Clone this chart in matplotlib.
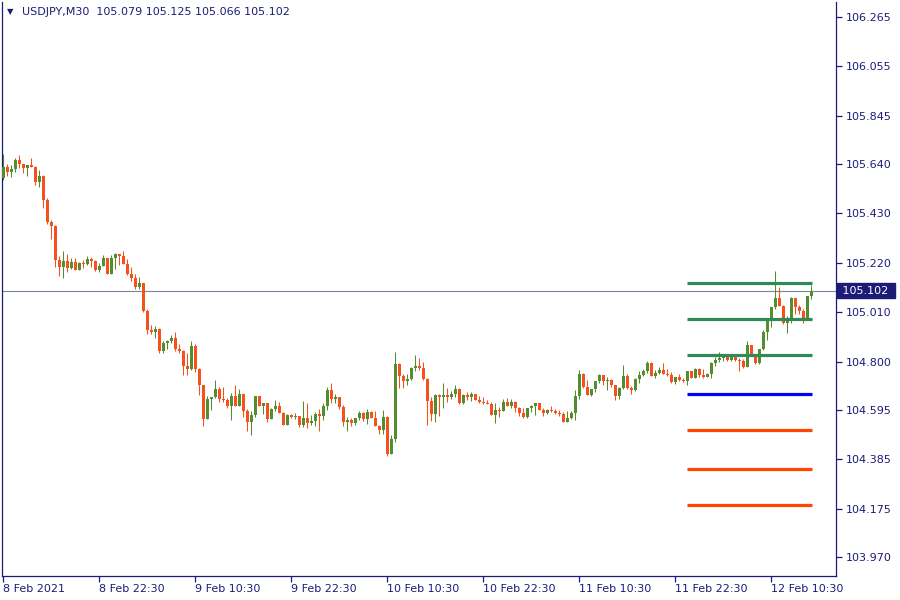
"""
USDJPY M30 candles with the hand-drawn levels (MT4-style screen).
Values read off the chart by eye; open of each bar = previous close.
"""
import numpy as np
import matplotlib
matplotlib.use("Agg")
import matplotlib.pyplot as plt
from matplotlib.transforms import blended_transform_factory

SYMBOL = "USDJPY"
TIMEFRAME = "M30"

FIRST_OPEN = 105.581
closes = [
    105.629, 105.608, 105.619, 105.657, 105.641, 105.623, 105.636, 105.628, 105.564, 105.590,
    105.487, 105.394, 105.377, 105.232, 105.203, 105.228, 105.198, 105.224, 105.190, 105.220,
    105.215, 105.237, 105.228, 105.190, 105.207, 105.241, 105.173, 105.241, 105.258, 105.249,
    105.215, 105.173, 105.156, 105.118, 105.135, 105.016, 104.935, 104.926, 104.939, 104.846,
    104.880, 104.888, 104.901, 104.854, 104.846, 104.782, 104.769, 104.867, 104.769, 104.701,
    104.557, 104.642, 104.650, 104.684, 104.642, 104.637, 104.612, 104.654, 104.612, 104.663,
    104.591, 104.544, 104.574, 104.654, 104.612, 104.625, 104.557, 104.599, 104.612, 104.582,
    104.531, 104.574, 104.565, 104.570, 104.531, 104.561, 104.540, 104.548, 104.578, 104.570,
    104.612, 104.680, 104.642, 104.650, 104.608, 104.544, 104.552, 104.540, 104.561, 104.582,
    104.557, 104.587, 104.561, 104.527, 104.510, 104.565, 104.408, 104.472, 104.790, 104.740,
    104.718, 104.727, 104.773, 104.782, 104.773, 104.727, 104.633, 104.578, 104.659, 104.650,
    104.659, 104.650, 104.663, 104.684, 104.625, 104.659, 104.650, 104.663, 104.637, 104.629,
    104.625, 104.620, 104.574, 104.595, 104.591, 104.629, 104.612, 104.629, 104.603, 104.582,
    104.565, 104.603, 104.612, 104.625, 104.595, 104.582, 104.595, 104.591, 104.582, 104.578,
    104.544, 104.561, 104.582, 104.654, 104.748, 104.693, 104.659, 104.684, 104.718, 104.744,
    104.718, 104.722, 104.701, 104.654, 104.688, 104.740, 104.688, 104.680, 104.727, 104.744,
    104.761, 104.795, 104.740, 104.752, 104.765, 104.748, 104.744, 104.714, 104.735, 104.722,
    104.718, 104.761, 104.731, 104.769, 104.744, 104.735, 104.748, 104.795, 104.807, 104.816,
    104.820, 104.807, 104.820, 104.807, 104.803, 104.778, 104.871, 104.829, 104.795, 104.854,
    104.926, 104.977, 105.032, 105.071, 105.037, 104.964, 104.981, 105.071, 105.032, 105.016,
    104.981, 105.079, 105.102,
]
highs = [
    105.683, 105.641, 105.636, 105.666, 105.679, 105.641, 105.636, 105.666, 105.632, 105.615,
    105.594, 105.496, 105.402, 105.381, 105.249, 105.271, 105.258, 105.241, 105.241, 105.224,
    105.232, 105.249, 105.245, 105.232, 105.220, 105.254, 105.241, 105.254, 105.262, 105.258,
    105.271, 105.237, 105.203, 105.173, 105.160, 105.135, 105.024, 104.956, 104.952, 104.943,
    104.888, 104.892, 104.914, 104.926, 104.875, 104.850, 104.837, 104.888, 104.875, 104.773,
    104.701, 104.654, 104.650, 104.722, 104.693, 104.693, 104.646, 104.667, 104.701, 104.684,
    104.663, 104.599, 104.591, 104.654, 104.654, 104.625, 104.625, 104.603, 104.637, 104.629,
    104.587, 104.578, 104.578, 104.582, 104.570, 104.633, 104.625, 104.574, 104.587, 104.599,
    104.625, 104.693, 104.710, 104.663, 104.650, 104.616, 104.565, 104.561, 104.561, 104.591,
    104.587, 104.599, 104.591, 104.591, 104.531, 104.595, 104.570, 104.489, 104.841, 104.795,
    104.748, 104.748, 104.778, 104.829, 104.816, 104.799, 104.731, 104.650, 104.663, 104.663,
    104.710, 104.688, 104.676, 104.701, 104.688, 104.663, 104.671, 104.671, 104.663, 104.654,
    104.650, 104.637, 104.629, 104.625, 104.608, 104.642, 104.646, 104.642, 104.633, 104.608,
    104.603, 104.603, 104.616, 104.625, 104.625, 104.603, 104.599, 104.612, 104.599, 104.595,
    104.587, 104.591, 104.591, 104.680, 104.765, 104.752, 104.722, 104.684, 104.718, 104.748,
    104.744, 104.735, 104.727, 104.701, 104.693, 104.786, 104.748, 104.697, 104.731, 104.761,
    104.769, 104.803, 104.799, 104.765, 104.778, 104.795, 104.769, 104.756, 104.735, 104.748,
    104.731, 104.761, 104.761, 104.773, 104.773, 104.769, 104.752, 104.799, 104.820, 104.841,
    104.824, 104.833, 104.824, 104.824, 104.816, 104.812, 104.888, 104.871, 104.833, 104.854,
    104.935, 104.981, 105.032, 105.185, 105.118, 105.041, 104.994, 105.075, 105.071, 105.041,
    105.024, 105.079, 105.125,
]
lows = [
    105.572, 105.590, 105.587, 105.606, 105.625, 105.604, 105.590, 105.628, 105.553, 105.543,
    105.454, 105.385, 105.322, 105.203, 105.165, 105.156, 105.181, 105.194, 105.190, 105.190,
    105.198, 105.211, 105.203, 105.186, 105.181, 105.207, 105.173, 105.173, 105.194, 105.211,
    105.215, 105.169, 105.143, 105.109, 105.109, 105.011, 104.918, 104.918, 104.901, 104.837,
    104.837, 104.854, 104.880, 104.846, 104.837, 104.744, 104.744, 104.765, 104.756, 104.659,
    104.527, 104.557, 104.595, 104.646, 104.629, 104.629, 104.603, 104.552, 104.612, 104.612,
    104.565, 104.506, 104.489, 104.565, 104.612, 104.578, 104.544, 104.557, 104.591, 104.582,
    104.531, 104.531, 104.561, 104.557, 104.523, 104.523, 104.519, 104.531, 104.527, 104.506,
    104.552, 104.595, 104.625, 104.625, 104.599, 104.527, 104.506, 104.527, 104.531, 104.552,
    104.548, 104.536, 104.561, 104.527, 104.493, 104.493, 104.399, 104.408, 104.459, 104.688,
    104.688, 104.701, 104.722, 104.761, 104.765, 104.722, 104.531, 104.548, 104.544, 104.570,
    104.603, 104.629, 104.642, 104.650, 104.620, 104.620, 104.637, 104.633, 104.637, 104.625,
    104.620, 104.620, 104.574, 104.540, 104.565, 104.591, 104.612, 104.603, 104.587, 104.570,
    104.561, 104.561, 104.587, 104.574, 104.595, 104.570, 104.578, 104.587, 104.578, 104.570,
    104.544, 104.544, 104.557, 104.552, 104.642, 104.688, 104.659, 104.654, 104.671, 104.710,
    104.701, 104.680, 104.693, 104.637, 104.642, 104.684, 104.684, 104.663, 104.676, 104.710,
    104.740, 104.752, 104.740, 104.731, 104.748, 104.748, 104.740, 104.710, 104.706, 104.718,
    104.714, 104.701, 104.731, 104.731, 104.735, 104.731, 104.735, 104.731, 104.782, 104.799,
    104.803, 104.803, 104.803, 104.803, 104.761, 104.773, 104.778, 104.824, 104.790, 104.790,
    104.850, 104.892, 104.947, 105.024, 105.037, 104.960, 104.922, 104.964, 105.003, 105.003,
    104.964, 104.981, 105.066,
]

# horizontal levels drawn on the right, from bar 171 to the last bar
level_prices = [105.133, 104.980, 104.827, 104.662, 104.510, 104.343, 104.190]
level_colors = ["#2e8b57", "#2e8b57", "#2e8b57", "#0000ff", "#ff4500", "#ff4500", "#ff4500"]
LEVEL_START = 171

y_ticks = [106.265, 106.055, 105.845, 105.640, 105.430, 105.220, 105.010,
           104.800, 104.595, 104.385, 104.175, 103.970]
x_tick_bars = [0, 24, 48, 72, 96, 120, 144, 168, 192]
x_tick_labels = ["8 Feb 2021", "8 Feb 22:30", "9 Feb 10:30", "9 Feb 22:30", "10 Feb 10:30",
                 "10 Feb 22:30", "11 Feb 10:30", "11 Feb 22:30", "12 Feb 10:30"]

UP = "#548c2f"
DOWN = "#f4511e"
FG = "#1c1c78"

W, H = 900, 600


def main():
    assert len(closes) == len(highs) == len(lows)
    c = np.array(closes)
    o = np.concatenate([[FIRST_OPEN], c[:-1]])
    hi = np.array(highs)
    lo = np.array(lows)
    x = np.arange(len(c))
    up = c >= o
    cols = np.where(up, UP, DOWN)

    fig = plt.figure(figsize=(W / 100, H / 100), dpi=100)
    # plot box: px 2..836 horizontally, 2..576 vertically
    ax = fig.add_axes([2 / W, 24 / H, 834 / W, 574 / H])
    ax.set_xlim(-0.325, 208.2)
    ax.set_ylim(103.889, 106.329)

    ax.axhline(c[-1], color="#778899", lw=0.8, zorder=1)
    ax.vlines(x, lo, hi, colors=cols, lw=0.75, zorder=2)
    body = np.maximum(np.abs(c - o), 0.0012)
    ax.bar(x, body, bottom=np.minimum(o, c), width=0.74, color=cols, lw=0, zorder=3)

    ax.hlines(level_prices, LEVEL_START - 0.1, len(c) - 0.8, colors=level_colors,
              lw=2.3, zorder=4)

    for s in ax.spines.values():
        s.set_color(FG)
        s.set_linewidth(0.9)
    ax.spines["top"].set_visible(False)
    ax.yaxis.tick_right()
    ax.set_yticks(y_ticks)
    ax.set_yticklabels([f"{v:.3f}" for v in y_ticks])
    ax.set_xticks(x_tick_bars)
    ax.set_xticklabels(x_tick_labels)
    for lab in ax.get_xticklabels():
        lab.set_horizontalalignment("left")
    ax.tick_params(axis="both", direction="out", length=4, width=0.9, colors=FG,
                   labelsize=8, labelcolor=FG)
    ax.tick_params(axis="y", pad=3)
    ax.tick_params(axis="x", pad=2)

    # current price tag on the price scale
    tr = blended_transform_factory(ax.transAxes, ax.transData)
    ax.text(1.004, c[-1], f" {c[-1]:.3f} ", transform=tr, ha="left", va="center",
            fontsize=8, color="white", clip_on=False,
            bbox=dict(boxstyle="square,pad=0.25", fc=FG, ec=FG))

    fig.text(7 / W, 1 - 12 / H, "\u25bc", fontsize=6, color=FG, va="center", ha="left")
    fig.text(22 / W, 1 - 12 / H,
             f"{SYMBOL},{TIMEFRAME}  {o[-1]:.3f} {hi[-1]:.3f} {lo[-1]:.3f} {c[-1]:.3f}",
             fontsize=8, color=FG, va="center", ha="left")

    fig.savefig("out.png", dpi=100, facecolor="white")


if __name__ == "__main__":
    main()
